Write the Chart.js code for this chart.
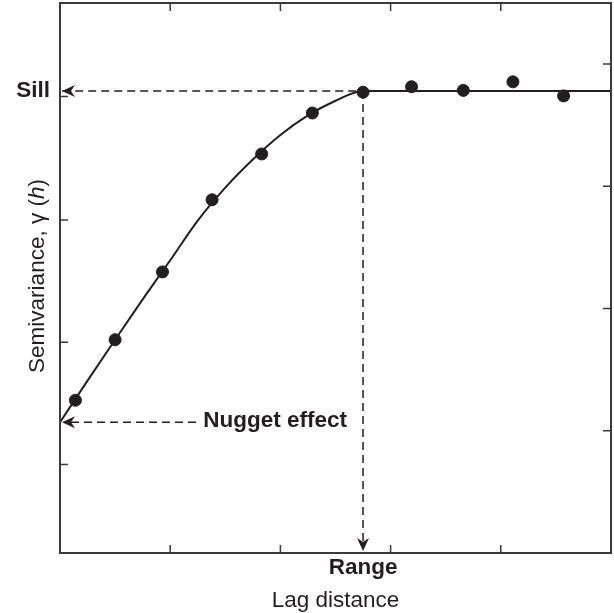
<!DOCTYPE html>
<html>
<head>
<meta charset="utf-8">
<script src="https://cdn.jsdelivr.net/npm/chart.js@4.4.1/dist/chart.umd.min.js"></script>
<style>
  body { margin: 0; background: #fff; }
  canvas { display: block; }
</style>
</head>
<body>
<canvas id="variogram" width="614" height="613"></canvas>
<script>
// observed semivariance points
const lagX = [0.14, 0.50, 0.93, 1.38, 1.83, 2.29, 2.75, 3.19, 3.66, 4.11, 4.57];
const gammaY = [2.50, 3.49, 4.60, 5.78, 6.53, 7.20, 7.54, 7.63, 7.57, 7.71, 7.48];

// fitted model curve
const curveX = [0, 0.25, 0.50, 0.75, 1.00, 1.25, 1.50, 1.75, 2.00, 2.25, 2.50, 2.75, 5];
const curveY = [2.14, 2.82, 3.49, 4.15, 4.79, 5.44, 5.98, 6.44, 6.84, 7.16, 7.40, 7.56, 7.56];

const nugget = 2.14;
const sill = 7.56;
const range = 2.75;
const nuggetLineEnd = 1.25;

// frame ticks
const xTicks = [1, 2, 3, 4];
const leftTicks = [1.45, 3.45, 5.45, 7.47];
const rightTicks = [2, 4, 6, 8];

const ink = '#231f20';
const frameColor = '#3a3a3a';
const fontFamily = '"Liberation Sans", Arial, sans-serif';

function xy(xs, ys) {
    return xs.map(function (x, i) { return {x: x, y: ys[i]}; });
}

function arrowHead(ctx, x, y, angle) {
    ctx.save();
    ctx.translate(x, y);
    ctx.rotate(angle);
    ctx.beginPath();
    ctx.moveTo(0, 0);
    ctx.lineTo(-13, -6);
    ctx.lineTo(-9, 0);
    ctx.lineTo(-13, 6);
    ctx.closePath();
    ctx.fillStyle = ink;
    ctx.fill();
    ctx.restore();
}

const decorations = {
    id: 'decorations',
    afterDraw: function (chart) {
        const ctx = chart.ctx;
        const a = chart.chartArea;
        const sx = chart.scales.x;
        const sy = chart.scales.y;
        ctx.save();

        // frame
        ctx.strokeStyle = frameColor;
        ctx.lineWidth = 2;
        ctx.strokeRect(a.left, a.top, a.right - a.left, a.bottom - a.top);

        // inward ticks
        ctx.lineWidth = 1.5;
        ctx.beginPath();
        xTicks.forEach(function (v) {
            const px = sx.getPixelForValue(v);
            ctx.moveTo(px, a.bottom); ctx.lineTo(px, a.bottom - 8);
            ctx.moveTo(px, a.top); ctx.lineTo(px, a.top + 8);
        });
        leftTicks.forEach(function (v) {
            const py = sy.getPixelForValue(v);
            ctx.moveTo(a.left, py); ctx.lineTo(a.left + 8, py);
        });
        rightTicks.forEach(function (v) {
            const py = sy.getPixelForValue(v);
            ctx.moveTo(a.right, py); ctx.lineTo(a.right - 8, py);
        });
        ctx.stroke();

        // arrow heads
        arrowHead(ctx, a.left + 2, sy.getPixelForValue(sill), Math.PI);
        arrowHead(ctx, a.left + 2, sy.getPixelForValue(nugget), Math.PI);
        arrowHead(ctx, sx.getPixelForValue(range), a.bottom - 2, Math.PI / 2);

        // labels
        ctx.fillStyle = ink;
        ctx.textBaseline = 'middle';
        ctx.font = 'bold 22.5px ' + fontFamily;
        ctx.textAlign = 'right';
        ctx.fillText('Sill', a.left - 10, sy.getPixelForValue(sill));
        ctx.textAlign = 'left';
        ctx.fillText('Nugget effect', sx.getPixelForValue(1.3), sy.getPixelForValue(nugget) - 1);
        ctx.textAlign = 'center';
        ctx.fillText('Range', sx.getPixelForValue(range), a.bottom + 15);

        ctx.font = '22.5px ' + fontFamily;
        ctx.fillText('Lag distance', (a.left + a.right) / 2, a.bottom + 48);

        // y axis title with italic h
        ctx.save();
        ctx.translate(38, 276);
        ctx.rotate(-Math.PI / 2);
        const part1 = 'Semivariance, \u03b3 (';
        const part2 = 'h';
        const part3 = ')';
        const plain = '22.5px ' + fontFamily;
        const italic = 'italic 22.5px ' + fontFamily;
        ctx.font = plain;
        const w1 = ctx.measureText(part1).width;
        const w3 = ctx.measureText(part3).width;
        ctx.font = italic;
        const w2 = ctx.measureText(part2).width;
        let cx = -(w1 + w2 + w3) / 2;
        ctx.textAlign = 'left';
        ctx.font = plain;
        ctx.fillText(part1, cx, 0);
        cx += w1;
        ctx.font = italic;
        ctx.fillText(part2, cx, 0);
        cx += w2;
        ctx.font = plain;
        ctx.fillText(part3, cx, 0);
        ctx.restore();

        ctx.restore();
    }
};

new Chart(document.getElementById('variogram').getContext('2d'), {
    type: 'scatter',
    data: {
        datasets: [
            {
                type: 'line',
                data: xy(curveX, curveY),
                borderColor: ink,
                borderWidth: 2,
                pointRadius: 0,
                cubicInterpolationMode: 'monotone',
                fill: false
            },
            {
                type: 'line',
                data: [{x: 0.02, y: sill}, {x: range, y: sill}],
                borderColor: ink,
                borderWidth: 1.5,
                borderDash: [8, 5],
                pointRadius: 0
            },
            {
                type: 'line',
                data: [{x: range, y: sill}, {x: range, y: 0.1}],
                borderColor: ink,
                borderWidth: 1.5,
                borderDash: [8, 5],
                pointRadius: 0
            },
            {
                type: 'line',
                data: [{x: 0.1, y: nugget}, {x: nuggetLineEnd, y: nugget}],
                borderColor: ink,
                borderWidth: 1.5,
                borderDash: [8, 5],
                pointRadius: 0
            },
            {
                data: xy(lagX, gammaY),
                backgroundColor: ink,
                borderColor: ink,
                pointRadius: 6,
                pointHoverRadius: 6
            }
        ]
    },
    options: {
        responsive: false,
        animation: false,
        layout: {autoPadding: false, padding: {left: 60, right: 3, top: 3, bottom: 60}},
        plugins: {legend: {display: false}, tooltip: {enabled: false}},
        scales: {
            x: {type: 'linear', min: 0, max: 5, display: false},
            y: {type: 'linear', min: 0, max: 9, display: false}
        }
    },
    plugins: [decorations]
});
</script>
</body>
</html>
